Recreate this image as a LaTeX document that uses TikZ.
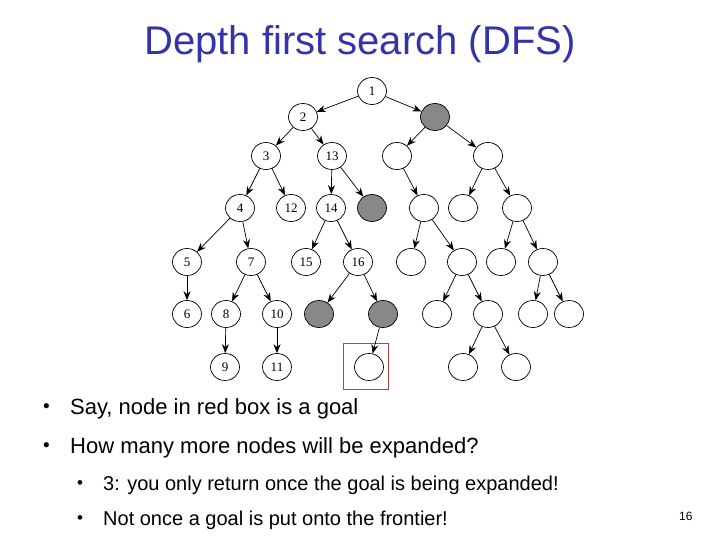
\documentclass[tikz,border=0pt]{standalone}
\usepackage{fontspec}
\setmainfont{Liberation Serif}
\newfontfamily\arialf{Liberation Sans}
\usetikzlibrary{arrows.meta,shapes.geometric}
\definecolor{titleblue}{RGB}{51,51,170}
\definecolor{greyfill}{RGB}{136,136,136}
\definecolor{boxred}{RGB}{192,64,64}
\tikzset{
  tn/.style={ellipse,draw=black,line width=0.7pt,minimum width=29pt,minimum height=27pt,inner sep=0pt,font=\fontsize{13}{13}\selectfont},
  gn/.style={tn,fill=greyfill},
  edge/.style={-{Stealth[length=9pt,width=7pt]},line width=0.7pt},
  txt/.style={anchor=base west,inner sep=0pt,font=\arialf\fontsize{22}{22}\selectfont},
  subtxt/.style={anchor=base west,inner sep=0pt,font=\arialf\fontsize{20}{20}\selectfont},
  bul/.style={anchor=base west,inner sep=0pt,font=\arialf\fontsize{19}{19}\selectfont},
  subbul/.style={anchor=base west,inner sep=0pt,font=\arialf\fontsize{17}{17}\selectfont}
}
\begin{document}
\begin{tikzpicture}[x=1pt,y=-1pt]
\useasboundingbox (0,0) rectangle (720,540);
\fill[white] (0,0) rectangle (720,540);
\node[anchor=base,inner sep=0pt,text=titleblue,font=\arialf\fontsize{40}{40}\selectfont] (title) at (360,55) {Depth first search (DFS)};
% tree nodes
\node[tn] (n1) at (372,91) {1};
\node[tn] (n2) at (303,117) {2};
\node[gn] (g1) at (435,117) {};
\node[tn] (n3) at (266,156) {3};
\node[tn] (n13) at (332,156) {13};
\node[tn] (a) at (397,156) {};
\node[tn] (b) at (488,156) {};
\node[tn] (n4) at (240,208) {4};
\node[tn] (n12) at (291,208) {12};
\node[tn] (n14) at (331,208) {14};
\node[gn] (g2) at (372,208) {};
\node[tn] (c) at (424,208) {};
\node[tn] (d) at (463,208) {};
\node[tn] (e) at (517,208) {};
\node[tn] (n5) at (187,262) {5};
\node[tn] (n7) at (251,262) {7};
\node[tn] (n15) at (306,262) {15};
\node[tn] (n16) at (358,262) {16};
\node[tn] (f) at (411,262) {};
\node[tn] (g) at (462,262) {};
\node[tn] (h) at (501,262) {};
\node[tn] (i) at (543,262) {};
\node[tn] (n6) at (187,314) {6};
\node[tn] (n8) at (226,314) {8};
\node[tn] (n10) at (277,314) {10};
\node[gn] (g3) at (319,314) {};
\node[gn] (g4) at (383,314) {};
\node[tn] (j) at (437,314) {};
\node[tn] (k) at (488,314) {};
\node[tn] (l) at (533,314) {};
\node[tn] (m) at (569,314) {};
\node[tn] (n9) at (225,367) {9};
\node[tn] (n11) at (277,367) {11};
\node[tn] (goal) at (369,367) {};
\node[tn] (p) at (463,367) {};
\node[tn] (q) at (516,367) {};
\node[draw=boxred,line width=0.8pt,minimum width=45pt,minimum height=46pt,inner sep=0pt] (redbox) at (366,366) {};
% edges
\foreach \s/\t in {n1/n2,n1/g1,n2/n3,n2/n13,g1/a,g1/b,n3/n4,n3/n12,n13/n14,n13/g2,a/c,b/d,b/e,n4/n5,n4/n7,n14/n15,n14/n16,c/f,c/g,e/h,e/i,n5/n6,n7/n8,n7/n10,n16/g3,n16/g4,g/j,g/k,i/l,i/m,n8/n9,n10/n11,g4/goal,k/p,k/q}
  \draw[edge] (\s) -- (\t);
% text
\node[bul] (b1) at (43,412) {\textbullet};
\node[txt] (t1) at (70,414) {Say, node in red box is a goal};
\node[bul] (b2) at (43,451) {\textbullet};
\node[txt] (t2) at (70,453) {How many more nodes will be expanded?};
\node[subbul] (b3) at (77,488) {\textbullet};
\node[subtxt] (t3) at (103,490) {3: you only return once the goal is being expanded!};
\node[subbul] (b4) at (77,523) {\textbullet};
\node[subtxt] (t4) at (103,525) {Not once a goal is put onto the frontier!};
\node[anchor=base west,inner sep=0pt,font=\arialf\fontsize{12}{12}\selectfont] (pg) at (679,520) {16};
\end{tikzpicture}
\end{document}
